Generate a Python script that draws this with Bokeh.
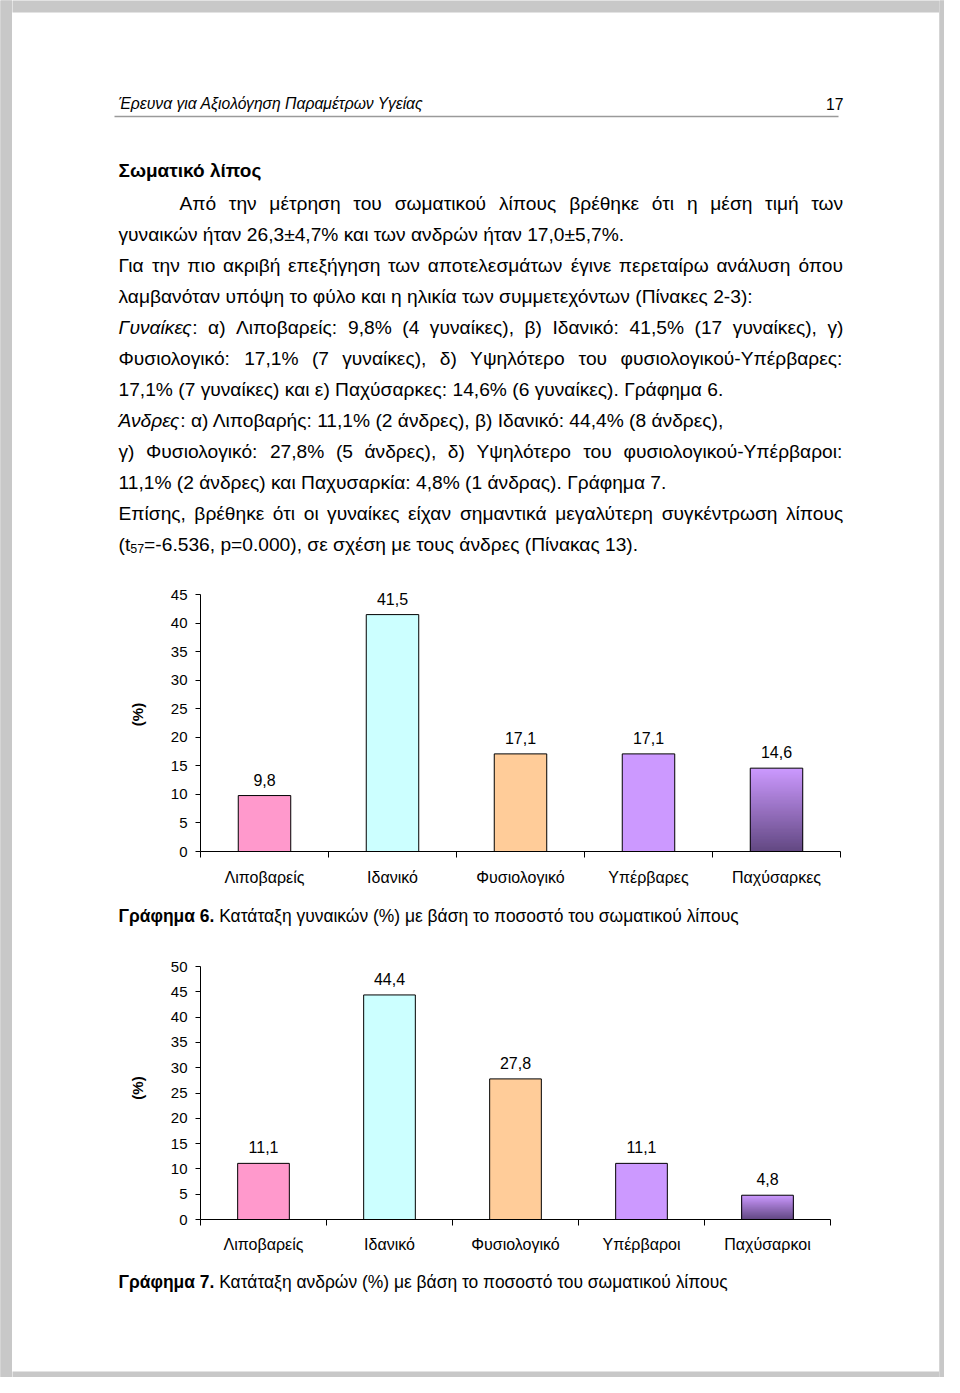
import os
import glob
import struct
import statistics

from bokeh.plotting import figure
from bokeh.layouts import column, row
from bokeh.models import Range1d, FixedTicker, ColumnDataSource
from bokeh.core.properties import value
from bokeh.embed import file_html
from bokeh.resources import INLINE

# ---------------------------------------------------------------- data
women_categories = ["Λιποβαρείς", "Ιδανικό", "Φυσιολογικό", "Υπέρβαρες", "Παχύσαρκες"]
women_values = [9.8, 41.5, 17.1, 17.1, 14.6]
women_yticks = [0, 5, 10, 15, 20, 25, 30, 35, 40, 45]

men_categories = ["Λιποβαρείς", "Ιδανικό", "Φυσιολογικό", "Υπέρβαροι", "Παχύσαρκοι"]
men_values = [11.1, 44.4, 27.8, 11.1, 4.8]
men_yticks = [0, 5, 10, 15, 20, 25, 30, 35, 40, 45, 50]

bar_colors = ["#FF99CC", "#CCFFFF", "#FFCC99", "#CC99FF"]
gradient_top = (204, 153, 255)
gradient_bottom = (98, 72, 130)

header_text = "Έρευνα για Αξιολόγηση Παραμέτρων Υγείας"
page_number = "17"
section_title = "Σωματικό λίπος"

body_runs = [
    [("Από την μέτρηση του σωματικού λίπους βρέθηκε ότι η μέση τιμή των", "n")],
    [("γυναικών ήταν 26,3±4,7% και των ανδρών ήταν 17,0±5,7%.", "n")],
    [("Για την πιο ακριβή επεξήγηση των αποτελεσμάτων έγινε περεταίρω ανάλυση όπου", "n")],
    [("λαμβανόταν υπόψη το φύλο και η ηλικία των συμμετεχόντων (Πίνακες 2-3):", "n")],
    [("Γυναίκες", "i"), (": α) Λιποβαρείς: 9,8% (4 γυναίκες), β) Ιδανικό: 41,5% (17 γυναίκες), γ)", "n")],
    [("Φυσιολογικό: 17,1% (7 γυναίκες), δ) Υψηλότερο του φυσιολογικού-Υπέρβαρες:", "n")],
    [("17,1% (7 γυναίκες) και ε) Παχύσαρκες: 14,6% (6 γυναίκες). Γράφημα 6.", "n")],
    [("Άνδρες", "i"), (": α) Λιποβαρής: 11,1% (2 άνδρες), β) Ιδανικό: 44,4% (8 άνδρες),", "n")],
    [("γ) Φυσιολογικό: 27,8% (5 άνδρες), δ) Υψηλότερο του φυσιολογικού-Υπέρβαροι:", "n")],
    [("11,1% (2 άνδρες) και Παχυσαρκία: 4,8% (1 άνδρας). Γράφημα 7.", "n")],
    [("Επίσης, βρέθηκε ότι οι γυναίκες είχαν σημαντικά μεγαλύτερη συγκέντρωση λίπους", "n")],
    [("(t", "n"), ("57", "sub"), ("=-6.536, p=0.000), σε σχέση με τους άνδρες (Πίνακας 13).", "n")],
]
body_justify = [True, False, True, False, True, True, False, False, True, False, True, False]
body_indent = [True] + [False] * 11

caption6 = [("Γράφημα 6.", "b"), (" Κατάταξη γυναικών (%) με βάση το ποσοστό του σωματικού λίπους", "n")]
caption7 = [("Γράφημα 7.", "b"), (" Κατάταξη ανδρών (%) με βάση το ποσοστό του σωματικού λίπους", "n")]

# ---------------------------------------------------------------- page geometry (page pixels)
FONT = "Liberation Sans"
GRAY = "#c8c8c8"
PAGE_W, PAGE_H = 944, 1377
LEFT, RIGHT, INDENT = 118, 843, 179
BODY_Y0, BODY_STEP = 203, 31
BORDER_L, BORDER_T, BORDER_R, BORDER_B = 12, 12, 5, 6
INNER_X0, INNER_X1 = BORDER_L, PAGE_W - BORDER_R
INNER_W = INNER_X1 - INNER_X0


# ---------------------------------------------------------------- font metrics (for text layout)
def _find_font(name):
    for root in ["/usr/share/fonts", "/usr/local/share/fonts", os.path.expanduser("~/.fonts")]:
        hits = glob.glob(os.path.join(root, "**", name), recursive=True)
        if hits:
            return hits[0]
    return None


class FontMetrics:
    def __init__(self, filename):
        self.ok = False
        path = _find_font(filename)
        if not path:
            return
        try:
            d = open(path, "rb").read()
            u16 = lambda o: struct.unpack(">H", d[o:o + 2])[0]
            num = u16(4)
            tables = {}
            for i in range(num):
                tag, _cs, off, _ln = struct.unpack(">4sIII", d[12 + 16 * i:28 + 16 * i])
                tables[tag.decode("latin1")] = off
            self.upem = u16(tables["head"] + 18)
            nhm = u16(tables["hhea"] + 34)
            hm = tables["hmtx"]
            self.adv = [u16(hm + 4 * i) for i in range(nhm)]
            cm = tables["cmap"]
            n = u16(cm + 2)
            sub = None
            for i in range(n):
                pid, eid, off = struct.unpack(">HHI", d[cm + 4 + 8 * i:cm + 12 + 8 * i])
                if pid == 3 and eid == 1 and u16(cm + off) == 4:
                    sub = cm + off
            segx2 = u16(sub + 6)
            ends = sub + 14
            starts = ends + segx2 + 2
            deltas = starts + segx2
            ros = deltas + segx2
            self.segs = []
            for s in range(segx2 // 2):
                self.segs.append((u16(starts + 2 * s), u16(ends + 2 * s), u16(deltas + 2 * s),
                                  u16(ros + 2 * s), ros + 2 * s))
            self.u16 = u16
            self.cache = {}
            self.ok = True
        except Exception:
            self.ok = False

    def glyph(self, c):
        if c in self.cache:
            return self.cache[c]
        g = 0
        for start, end, delta, ro, ropos in self.segs:
            if start <= c <= end:
                if ro == 0:
                    g = (c + delta) & 0xFFFF
                else:
                    g = self.u16(ropos + ro + 2 * (c - start))
                    if g:
                        g = (g + delta) & 0xFFFF
                break
        self.cache[c] = g
        return g

    def width(self, s, size):
        if not self.ok:
            return sum(0.28 if ch == " " else 0.53 for ch in s) * size
        tot = 0
        for ch in s:
            g = self.glyph(ord(ch))
            tot += self.adv[g] if g < len(self.adv) else self.adv[-1]
        return tot / self.upem * size


METRICS = {
    "n": FontMetrics("LiberationSans-Regular.ttf"),
    "b": FontMetrics("LiberationSans-Bold.ttf"),
    "i": FontMetrics("LiberationSans-Italic.ttf"),
}
METRICS["sub"] = METRICS["n"]
SUB_SCALE = 0.65


def seg_width(text, style, size):
    if style == "sub":
        return METRICS["n"].width(text, size * SUB_SCALE)
    return METRICS[style].width(text, size)


def runs_width(runs, size):
    return sum(seg_width(t, s, size) for t, s in runs)


def layout_line(runs, x0, y, size, justify=False, right=RIGHT):
    """Return text items (x, y, text, style, size) for one line."""
    items = []
    if justify:
        words = [[]]
        for text, style in runs:
            parts = text.split(" ")
            for i, part in enumerate(parts):
                if i > 0:
                    words.append([])
                if part:
                    words[-1].append((part, style))
        words = [w for w in words if w]
        widths = [runs_width(w, size) for w in words]
        gap = (right - x0 - sum(widths)) / max(1, len(words) - 1)
        x = x0
        for w, ww in zip(words, widths):
            xx = x
            for t, s in w:
                items.append((xx, y, t, s, size))
                xx += seg_width(t, s, size)
            x += ww + gap
    else:
        x = x0
        for text, style in runs:
            stripped = text.lstrip(" ")
            lead = len(text) - len(stripped)
            xx = x + seg_width(" " * lead, style, size)
            items.append((xx, y, stripped.rstrip(" "), style, size))
            x += seg_width(text, style, size)
    return items


def fit_size(runs, x0, x1, lo, hi, default):
    if not METRICS["n"].ok:
        return default
    s = (x1 - x0) / runs_width(runs, 1.0)
    return max(lo, min(hi, s))


# font sizes fitted to the reference's measured line lengths
_fits = []
for idx, end_x in [(1, 626), (3, 756), (6, 724), (7, 726), (9, 667), (11, 637)]:
    _fits.append(fit_size(body_runs[idx], LEFT, end_x, 15, 22, 18.9))
BODY_SIZE = statistics.median(_fits)
HEADER_SIZE = fit_size([(header_text, "i")], LEFT, 424, 14, 19, 16.0)
TITLE_SIZE = fit_size([(section_title, "b")], LEFT, 262, 15, 22, 18.9)
CAPTION_SIZE = statistics.median([fit_size(caption6, LEFT, 741, 14, 20, 17.3),
                                  fit_size(caption7, LEFT, 729, 14, 20, 17.3)])


def draw_items(p, items):
    groups = {}
    for x, y, t, style, size in items:
        groups.setdefault((style, size), []).append((x, y, t))
    for (style, size), lst in groups.items():
        fs = {"n": "normal", "b": "bold", "i": "italic", "sub": "normal"}[style]
        sz = size * SUB_SCALE if style == "sub" else size
        dy = size * 0.22 if style == "sub" else 0.0
        p.text(x=[a[0] for a in lst], y=[a[1] + dy for a in lst], text=[a[2] for a in lst],
               text_font=value(FONT), text_font_size=f"{sz:.2f}px", text_font_style=fs,
               text_color="black", text_align="left", text_baseline="middle")


def page_fig(y0, y1):
    """A text section of the page, in page pixel coordinates (y downwards)."""
    p = figure(width=INNER_W, height=y1 - y0, x_range=Range1d(INNER_X0, INNER_X1),
               y_range=Range1d(y1, y0),
               output_backend="svg", toolbar_location=None, min_border=0,
               x_axis_location=None, y_axis_location=None, outline_line_color=None,
               background_fill_color="white", border_fill_color="white")
    p.grid.visible = False
    return p


def strip(width, height):
    s = figure(width=width, height=height, output_backend="svg", toolbar_location=None,
               min_border=0, x_axis_location=None, y_axis_location=None,
               outline_line_color=None, background_fill_color=GRAY, border_fill_color=GRAY,
               x_range=Range1d(0, 1), y_range=Range1d(0, 1))
    s.grid.visible = False
    s.quad(left=[-1], right=[2], bottom=[-1], top=[2], fill_color=GRAY, line_color=GRAY)
    return s


def fmt(v):
    return f"{v:.1f}".replace(".", ",")


def make_chart(categories, values, yticks, y_top, height, b_top, b_bottom, b_left, b_right,
               label_standoff):
    n = len(categories)
    xs = [i + 0.5 for i in range(n)]
    p = figure(width=INNER_W, height=height, x_range=Range1d(0, n), y_range=Range1d(0, y_top),
               output_backend="svg", toolbar_location=None,
               min_border_top=b_top, min_border_bottom=b_bottom,
               min_border_left=b_left, min_border_right=b_right,
               outline_line_color=None, background_fill_color="white", border_fill_color="white")
    p.grid.visible = False

    bw = 0.41
    src = ColumnDataSource(dict(x=xs[:-1], top=values[:-1], color=bar_colors[:n - 1]))
    p.vbar(x="x", top="top", bottom=0, width=bw, source=src, fill_color="color",
           line_color="black", line_width=1)

    # last bar: vertical gradient fill (light lavender at top to dark purple at bottom),
    # drawn as nested bars from the full height down, so there are no seams
    v = values[-1]
    N = 60
    tops, cols = [], []
    for k in range(N - 1, -1, -1):
        t = 1 - (k + 0.5) / N  # 0 at top, 1 at bottom
        c = [round(gradient_top[j] + (gradient_bottom[j] - gradient_top[j]) * t) for j in range(3)]
        cols.append("#%02x%02x%02x" % tuple(c))
        tops.append(v * (k + 1) / N)
    p.vbar(x=[xs[-1]] * N, bottom=[0] * N, top=tops, width=bw, fill_color=cols, line_color=None)
    p.vbar(x=[xs[-1]], top=[v], bottom=[0], width=bw, fill_alpha=0, line_color="black", line_width=1)

    p.text(x=xs, y=values, text=[fmt(val) for val in values], text_align="center",
           text_baseline="middle", y_offset=-16, text_font=value(FONT), text_font_size="16px",
           text_color="black")

    ya = p.yaxis[0]
    ya.ticker = FixedTicker(ticks=yticks)
    ya.bounds = (0, max(yticks))
    ya.major_tick_out = 5
    ya.major_tick_in = 0
    ya.minor_tick_out = 0
    ya.minor_tick_in = 0
    ya.major_label_standoff = 8
    ya.major_label_text_font = FONT
    ya.major_label_text_font_size = "15px"
    ya.major_label_text_color = "black"
    ya.axis_line_color = "black"
    ya.major_tick_line_color = "black"
    ya.axis_label = "(%)"
    ya.axis_label_text_font = FONT
    ya.axis_label_text_font_style = "bold"
    ya.axis_label_text_font_size = "15px"
    ya.axis_label_text_color = "black"
    ya.axis_label_standoff = 22

    xa = p.xaxis[0]
    xa.ticker = FixedTicker(ticks=xs, minor_ticks=[float(i) for i in range(n + 1)])
    xa.major_label_overrides = {x: c for x, c in zip(xs, categories)}
    xa.major_tick_line_color = None
    xa.major_tick_out = 0
    xa.major_tick_in = 0
    xa.minor_tick_line_color = "black"
    xa.minor_tick_out = 6
    xa.minor_tick_in = 0
    xa.major_label_standoff = label_standoff
    xa.major_label_text_font = FONT
    xa.major_label_text_font_size = "16px"
    xa.major_label_text_color = "black"
    xa.axis_line_color = "black"
    return p


# ---------------------------------------------------------------- section A: header + text
A0, A1 = 0, 575
pa = page_fig(A0, A1)
pa.quad(left=[INNER_X0 - 5], right=[INNER_X1 + 5], top=[-5], bottom=[BORDER_T],
        fill_color=GRAY, line_color=None)
items = []
items += layout_line([(header_text, "i")], LEFT, 103, HEADER_SIZE)
items += layout_line([(page_number, "n")], RIGHT - seg_width(page_number, "n", HEADER_SIZE), 103, HEADER_SIZE)
items += layout_line([(section_title, "b")], LEFT, 170, TITLE_SIZE)
for i, runs in enumerate(body_runs):
    x0 = INDENT if body_indent[i] else LEFT
    items += layout_line(runs, x0, BODY_Y0 + BODY_STEP * i, BODY_SIZE, justify=body_justify[i])
draw_items(pa, items)
pa.line(x=[114, 838], y=[116, 116], line_color="#9a9a9a", line_width=1.6)

# ---------------------------------------------------------------- section B: chart 6 (women)
B_H = 318  # page 575..893
chart6 = make_chart(women_categories, women_values, women_yticks, 48, B_H, 2, 42,
                    200 - INNER_X0, INNER_X1 - 840, 11)

# ---------------------------------------------------------------- section C: caption 6
C0, C1 = 893, 945
pc = page_fig(C0, C1)
draw_items(pc, layout_line(caption6, LEFT, 915, CAPTION_SIZE))

# ---------------------------------------------------------------- section D: chart 7 (men)
D_H = 317  # page 945..1262
chart7 = make_chart(men_categories, men_values, men_yticks, 52, D_H, 11, 43,
                    200 - INNER_X0, INNER_X1 - 830, 10)

# ---------------------------------------------------------------- section E: caption 7 + bottom
E0, E1 = 1262, PAGE_H
pe = page_fig(E0, E1)
pe.quad(left=[INNER_X0 - 5], right=[INNER_X1 + 5], top=[PAGE_H - BORDER_B], bottom=[PAGE_H + 5],
        fill_color=GRAY, line_color=None)
draw_items(pe, layout_line(caption7, LEFT, 1281, CAPTION_SIZE))

# each chart is wrapped in its own row so that the column does not align the
# frames of the text sections with the frames of the charts
middle = column(row(pa, spacing=0), row(chart6, spacing=0), row(pc, spacing=0),
                row(chart7, spacing=0), row(pe, spacing=0), spacing=0)
layout = row(strip(BORDER_L, PAGE_H), middle, strip(BORDER_R, PAGE_H), spacing=0)

open("out.html", "w").write(file_html(layout, INLINE, title="Σωματικό λίπος"))
